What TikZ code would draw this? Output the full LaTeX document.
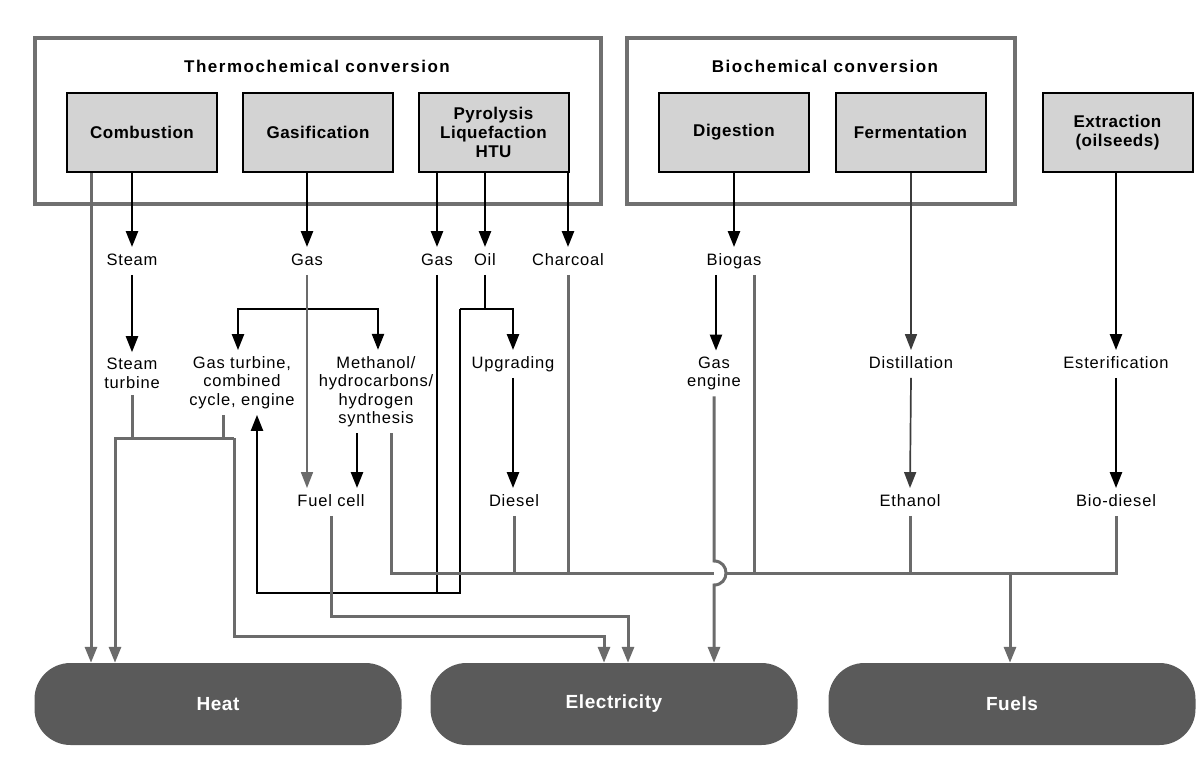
\documentclass[tikz,border=0pt]{standalone}
\usepackage{fontspec}
\setmainfont{Liberation Sans}
\usetikzlibrary{arrows.meta}
\definecolor{outerg}{HTML}{707070}
\definecolor{boxg}{HTML}{D3D3D3}
\definecolor{pillg}{HTML}{5A5A5A}
\definecolor{lineg}{HTML}{6B6B6B}
\definecolor{thing}{HTML}{3C3C3C}
\newcommand{\lblfont}{\fontsize{16.5}{18.5}\selectfont\addfontfeatures{LetterSpace=5}}
\newcommand{\boxfont}{\bfseries\fontsize{17}{19}\selectfont\addfontfeatures{LetterSpace=3}}
\newcommand{\ttlfont}{\bfseries\fontsize{17}{19}\selectfont\addfontfeatures{LetterSpace=9}}
\newcommand{\pillfont}{\bfseries\fontsize{19}{22}\selectfont\addfontfeatures{LetterSpace=3}}
\begin{document}
\begin{tikzpicture}[x=1pt,y=-1pt,
 outerbox/.style={draw=outerg,line width=4pt,inner sep=0pt},
 procbox/.style={draw=black,fill=boxg,line width=2pt,minimum width=150pt,minimum height=79pt,align=center,font=\boxfont,inner sep=0pt},
 titletxt/.style={font=\ttlfont,inner sep=0pt},
 lbl/.style={font=\lblfont,inner sep=6pt,text height=12pt,text depth=3.5pt},
 lblm/.style={font=\lblfont,inner sep=6pt,align=center},
 pill/.style={fill=pillg,rounded corners=36pt,minimum width=367pt,minimum height=82pt,text=white,font=\pillfont},
 blk/.style={draw=black,line width=2.4pt},
 gry/.style={draw=lineg,line width=3pt},
 thn/.style={draw=thing,line width=1.7pt},
 arrowend/.style={-{Triangle[length=16pt,width=12pt]}}
]
\useasboundingbox (0,0) rectangle (1200,760);

% outer group boxes
\node[outerbox,minimum width=566pt,minimum height=166pt] (thermo) at (318,121) {};
\node[outerbox,minimum width=388pt,minimum height=166pt] (bio) at (821,121) {};
\node[titletxt] (thermot) at (317,66) {Thermochemical conversion};
\node[titletxt] (biot) at (825,66) {Biochemical conversion};

% process boxes
\node[procbox] (comb) at (142,132.5) {Combustion};
\node[procbox] (gasif) at (318,132.5) {Gasification};
\node[procbox] (pyro) at (493.5,132.5) {Pyrolysis\\Liquefaction\\HTU};
\node[procbox] (dig) at (734,132.5) {Digestion};
\node[procbox] (ferm) at (910.5,132.5) {Fermentation};
\node[procbox] (ext) at (1117.5,132.5) {Extraction\\(oilseeds)};

% labels row 1
\node[lbl] (steam) at (132,261) {Steam};
\node[lbl] (gas1) at (307,261) {Gas};
\node[lbl] (gas2) at (437,261) {Gas};
\node[lbl] (oil) at (485,261) {Oil};
\node[lbl] (charcoal) at (568,261) {Charcoal};
\node[lbl] (biogas) at (734,261) {Biogas};

% labels row 2
\node[lblm] (steamt) at (132,373.5) {Steam\\turbine};
\node[lblm] (gturb) at (242,382.5) {Gas turbine,\\combined\\cycle, engine};
\node[lblm] (meth) at (376,391.5) {Methanol/\\hydrocarbons/\\hydrogen\\synthesis};
\node[lbl] (upg) at (513,364) {Upgrading};
\node[lblm] (geng) at (714,373.5) {Gas\\engine};
\node[lbl] (dist) at (911,364) {Distillation};
\node[lbl] (ester) at (1116,364) {Esterification};

% labels row 3
\node[lbl] (fuelcell) at (331,502) {Fuel cell};
\node[lbl] (diesel) at (514,502) {Diesel};
\node[lbl] (ethanol) at (910,502) {Ethanol};
\node[lbl] (biodiesel) at (1116,502) {Bio-diesel};

% output pills
\node[pill] (heat) at (218,704) {Heat};
\node[pill] (elec) at (614,704) {Electricity};
\node[pill] (fuels) at (1012,704) {Fuels};

% helper coordinates
\coordinate (hx1) at (91,0);
\coordinate (br1) at (238,309);
\coordinate (br2) at (378,309);
\coordinate (fc2) at (357,0);
\coordinate (ol) at (460,309);
\coordinate (or) at (513,309);
\coordinate (pb) at (460,593);
\coordinate (pl) at (257,593);
\coordinate (ja) at (115,438);
\coordinate (jb) at (234,438);
\coordinate (jc) at (234,636);
\coordinate (jd) at (604,636);
\coordinate (gx) at (223,438);
\coordinate (ke) at (628,616);
\coordinate (bl) at (391,573);
\coordinate (br) at (1116,573);
\coordinate (bg) at (754,573);
\coordinate (fb) at (1010,573);
\coordinate (gx2) at (716,0);
\coordinate (hopa) at (714,561);
\coordinate (hopb) at (714,585);

% black flows
\draw[blk,arrowend] (comb.south -| steam) -- (steam.north);
\draw[blk,arrowend] (steam.south) -- (steamt.north);
\draw[blk,arrowend] (gasif.south -| gas1) -- (gas1.north);
\draw[blk,arrowend] (pyro.south -| gas2) -- (gas2.north);
\draw[blk,arrowend] (pyro.south -| oil) -- (oil.north);
\draw[blk,arrowend] (pyro.south -| charcoal) -- (charcoal.north);
\draw[blk,arrowend] (dig.south) -- (biogas.north);
\draw[blk,arrowend] (ext.south -| ester) -- (ester.north);
\draw[blk,arrowend] (ester.south) -- (biodiesel.north);
\draw[thn,arrowend] (ferm.south -| dist) -- (dist.north);
\draw[thn,arrowend] (dist.south) -- (ethanol.south |- ethanol.north);
\draw[blk,{Triangle[length=16pt,width=12pt]}-{Triangle[length=16pt,width=12pt]}] (gturb.north -| br1) -- (br1) -- (br2) -- (meth.north -| br2);
\draw[thn,draw=lineg,arrowend] (gas1.south) -- (gas1.south |- fuelcell.north);
\draw[blk,arrowend] (meth.south -| fc2) -- (fuelcell.north -| fc2);
\draw[blk] (oil.south) -- (oil.south |- ol);
\draw[blk,arrowend] (ol) -- (or) -- (upg.north -| or);
\draw[blk,arrowend] (ol) -- (pb) -- (pl) -- (gturb.south -| pl);
\draw[blk] (gas2.south) -- (gas2.south |- pb);
\draw[blk,arrowend] (upg.south) -- (diesel.north -| upg);
\draw[blk,arrowend] (biogas.south -| gx2) -- (geng.north -| gx2);

% grey flows to heat and electricity
\draw[gry,arrowend] (comb.south -| hx1) -- (heat.north -| hx1);
\draw[gry] (steamt.south) -- (steamt.south |- ja);
\draw[gry] (gturb.south -| gx) -- (gx);
\draw[gry,arrowend] (jb) -- (ja) -- (heat.north -| ja);
\draw[gry,arrowend] (jb) -- (jc) -- (jd) -- (elec.north -| jd);
\draw[gry,arrowend] (fuelcell.south) -- (fuelcell.south |- ke) -- (ke) -- (elec.north -| ke);

% fuels bus
\draw[gry] (meth.south -| bl) -- (bl) -- (br) -- (biodiesel.south -| br);
\draw[gry] (diesel.south) -- (diesel.south |- bl);
\draw[gry] (charcoal.south) -- (charcoal.south |- bl);
\draw[gry] (biogas.south -| bg) -- (bg);
\draw[gry] (ethanol.south) -- (ethanol.south |- bl);
\draw[gry,arrowend] (fb) -- (fuels.north -| fb);

% gas engine to electricity with hop over bus
\draw[fill=white,draw=none] (hopa) .. controls (731,561) and (731,585) .. (hopb) -- cycle;
\draw[gry,arrowend] (geng.south) -- (hopa) .. controls (730,561) and (730,585) .. (hopb) -- (elec.north -| geng);
\end{tikzpicture}
\end{document}
